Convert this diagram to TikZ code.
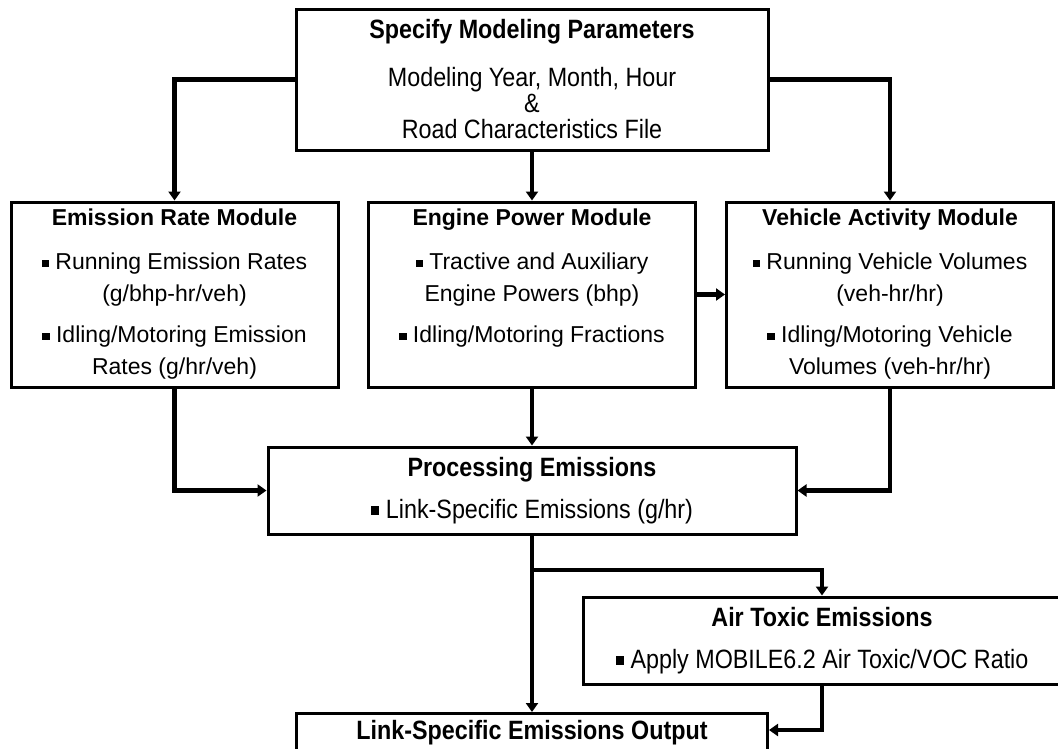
\documentclass[tikz,border=0pt]{standalone}
\usepackage{fontspec}
\setmainfont{Liberation Sans}
\newfontfamily\narrowsf[FakeStretch=0.88]{Liberation Sans}
\usetikzlibrary{arrows.meta,positioning}

\newcommand{\sqb}{\raisebox{0.25ex}{\rule{0.32em}{0.32em}}\ }

\begin{document}
\begin{tikzpicture}[x=1pt,y=-1pt,
  box/.style={draw,line width=3pt,inner sep=0pt},
  modbox/.style={box,align=center,minimum width=327pt,minimum height=185pt,font=\fontsize{23}{32}\selectfont},
  conn/.style={line width=4.5pt,-{Triangle[length=9pt,width=12pt]}}]
\useasboundingbox (0,0) rectangle (1058,748);
\clip (0,0) rectangle (1058,748);

% inputs
\node[box,align=center,minimum width=472pt,minimum height=141pt,font=\narrowsf\fontsize{26.5}{26}\selectfont] (spec) at (532,79.5)
  {\textbf{Specify Modeling Parameters}\\[22pt] Modeling Year, Month, Hour\\ \&\\ Road Characteristics File};

% the three modules
\node[modbox] (erm) at (174.5,294.5) {\textbf{Emission Rate Module}\\[12pt] \sqb Running Emission Rates\\ (g/bhp-hr/veh)\\[9pt] \sqb Idling/Motoring Emission\\ Rates (g/hr/veh)};
\node[modbox] (epm) at (532,294.5) {\textbf{Engine Power Module}\\[12pt] \sqb Tractive and Auxiliary\\ Engine Powers (bhp)\\[9pt] \sqb Idling/Motoring Fractions\\ \vphantom{(}};
\node[modbox] (vam) at (890,294.5) {\textbf{Vehicle Activity Module}\\[12pt] \sqb Running Vehicle Volumes\\ (veh-hr/hr)\\[9pt] \sqb Idling/Motoring Vehicle\\ Volumes (veh-hr/hr)};

% processing and output
\node[box,align=center,minimum width=528pt,minimum height=87pt,font=\narrowsf\fontsize{26.5}{26}\selectfont] (proc) at (532,490.5)
  {\textbf{Processing Emissions}\\[16pt] \sqb Link-Specific Emissions (g/hr)};
\node[box,align=center,minimum width=478pt,minimum height=87pt,font=\narrowsf\fontsize{26.5}{26}\selectfont] (air) at (822,640.5)
  {\textbf{Air Toxic Emissions}\\[16pt] \sqb Apply MOBILE6.2 Air Toxic/VOC Ratio};
\node[box,anchor=north,minimum width=471pt,text height=26pt,text depth=64pt,font=\narrowsf\fontsize{26.5}{26}\selectfont] (out) at (532,712)
  {\textbf{Link-Specific Emissions Output}};

\coordinate (br) at (proc.south |- 0,570);
\coordinate (outr) at ([yshift=-18pt]out.north east);

\draw[conn] (spec.west) -| (erm.north);
\draw[conn] (spec.south) -- (epm.north);
\draw[conn] (spec.east) -| (vam.north);
\draw[conn] (epm.east) -- (vam.west);
\draw[conn] (erm.south) |- (proc.west);
\draw[conn] (epm.south) -- (proc.north);
\draw[conn] (vam.south) |- (proc.east);
\draw[conn] (proc.south) -- (out.north);
\draw[conn] (br) -| (air.north);
\draw[conn] (air.south) |- (outr);
\end{tikzpicture}
\end{document}
